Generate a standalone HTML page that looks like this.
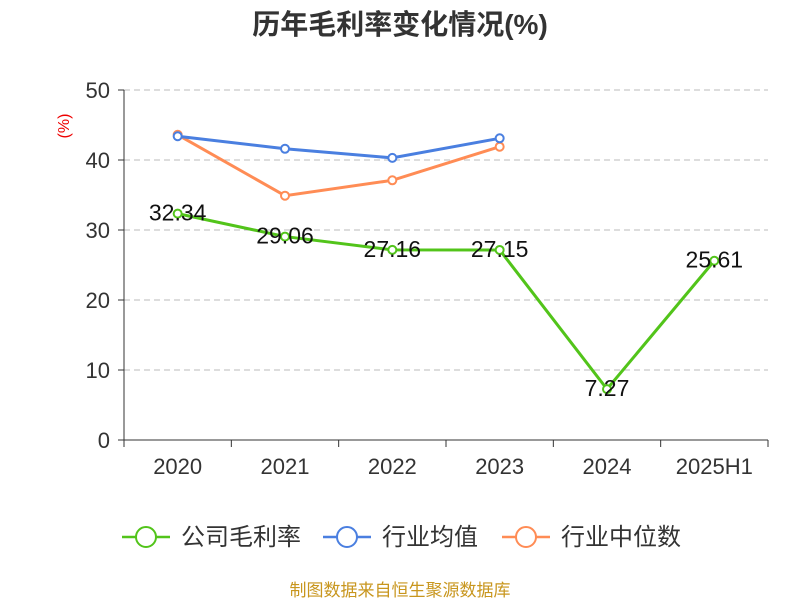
<!DOCTYPE html>
<html><head><meta charset="utf-8"><style>
body{margin:0;background:#fff;font-family:"Liberation Sans","Noto Sans CJK SC",sans-serif}
</style></head><body>
<svg id="chart" width="800" height="600" xmlns="http://www.w3.org/2000/svg">
<text x="400" y="34" text-anchor="middle" font-size="28" font-weight="bold" fill="#333" font-family="Liberation Sans, Noto Sans CJK SC, sans-serif">历年毛利率变化情况(%)</text>
<text x="69" y="126" text-anchor="middle" font-size="16" fill="#e00" transform="rotate(-90 69 126)">(%)</text>
<g id="grid"></g><g id="axes"></g><g id="series"></g>
<g font-size="24" fill="#333" font-family="Liberation Sans, Noto Sans CJK SC, sans-serif">
<g><line x1="122" y1="537" x2="170" y2="537" stroke="#52c41a" stroke-width="2.5"/><circle cx="146" cy="537" r="10" fill="#fff" stroke="#52c41a" stroke-width="2"/><text x="181" y="545">公司毛利率</text></g>
<g><line x1="323" y1="537" x2="371" y2="537" stroke="#4a7fe0" stroke-width="2.5"/><circle cx="347" cy="537" r="10" fill="#fff" stroke="#4a7fe0" stroke-width="2"/><text x="382" y="545">行业均值</text></g>
<g><line x1="502" y1="537" x2="550" y2="537" stroke="#ff8c55" stroke-width="2.5"/><circle cx="526" cy="537" r="10" fill="#fff" stroke="#ff8c55" stroke-width="2"/><text x="561" y="545">行业中位数</text></g>
</g>
<text x="400" y="596" text-anchor="middle" font-size="17" fill="#c8961e">制图数据来自恒生聚源数据库</text>
</svg>
<script>
const categories=["2020","2021","2022","2023","2024","2025H1"];
const companyValues=[32.34,29.06,27.16,27.15,7.27,25.61];
const industryAvg=[43.4,41.6,40.3,43.1];
const industryMedian=[43.6,34.9,37.1,41.9];
const yTicks=[0,10,20,30,40,50];
const NS="http://www.w3.org/2000/svg";
const x0=124,x1=768,yTop=90,yBot=440,yMax=50;
const bw=(x1-x0)/categories.length;
const xs=i=>x0+bw*(i+0.5);
const ys=v=>yBot-(v/yMax)*(yBot-yTop);
function mk(tag,attrs,parent){const e=document.createElementNS(NS,tag);for(const k in attrs)e.setAttribute(k,attrs[k]);parent.appendChild(e);return e;}
const grid=document.getElementById('grid'),axes=document.getElementById('axes'),ser=document.getElementById('series');
yTicks.forEach(t=>{
 if(t>0){const l=mk('line',{x1:x0,x2:x1,y1:ys(t),y2:ys(t),stroke:'#bbb','stroke-dasharray':'6,4'},grid);
 
 }
 const tk=mk('line',{x1:x0-6,x2:x0,y1:ys(t),y2:ys(t),stroke:'#333'},axes);
 
 
 const tx=mk('text',{x:x0-14,y:ys(t)+8,'text-anchor':'end','font-size':22,fill:'#333'},axes);tx.textContent=t;
 
 
});
const ya=mk('line',{x1:x0,x2:x0,y1:yTop,y2:yBot,stroke:'#333'},axes);


const xa=mk('line',{x1:x0,x2:x1,y1:yBot,y2:yBot,stroke:'#333'},axes);


for(let i=0;i<=categories.length;i++){const t=mk('line',{x1:x0+bw*i,x2:x0+bw*i,y1:yBot,y2:yBot+7,stroke:'#333'},axes);
 
 }
categories.forEach((c,i)=>{const t=mk('text',{x:xs(i),y:474,'text-anchor':'middle','font-size':22,fill:'#333'},axes);t.textContent=c;
 
 });
function series(vals,color,name,labels){
 const p=mk('polyline',{points:vals.map((v,i)=>xs(i)+','+ys(v)).join(' '),fill:'none',stroke:color,'stroke-width':3},ser);
 
 
 vals.forEach((v,i)=>{const c=mk('circle',{cx:xs(i),cy:ys(v),r:4,fill:'#fff',stroke:color,'stroke-width':2},ser);
  
  
  if(labels){const t=mk('text',{x:xs(i),y:ys(v)+7,'text-anchor':'middle','font-size':23,fill:'#111'},ser);t.textContent=v.toFixed(2);
   
   }
 });
}
series(industryMedian,'#ff8c55','industry-median',false);
series(industryAvg,'#4a7fe0','industry-avg',false);
series(companyValues,'#52c41a','company-margin',true);
</script>
</body></html>
